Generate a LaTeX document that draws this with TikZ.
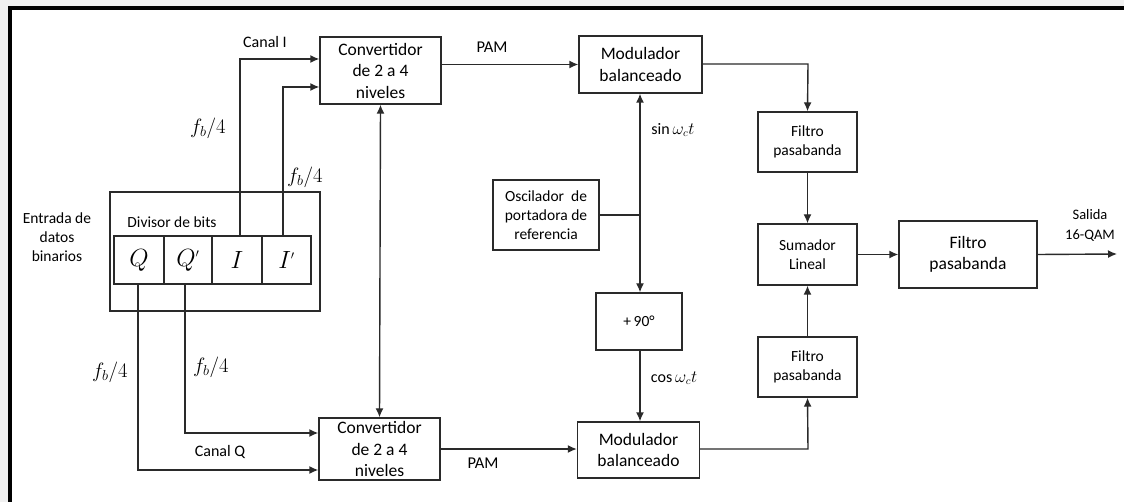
\documentclass[tikz,border=0pt]{standalone}
\usepackage{fontspec}
\setmainfont{Carlito}
\usetikzlibrary{arrows.meta}
\definecolor{bggray}{HTML}{F0F0F0}
\definecolor{ln}{HTML}{2A2A2A}
\tikzset{
  blk/.style={draw=ln, line width=1.4pt, fill=white, align=center, inner sep=0pt},
  big/.style={font=\fontsize{17.5}{21.5}\selectfont},
  small/.style={font=\fontsize{15.5}{19}\selectfont},
  wire/.style={draw=ln, line width=1.4pt},
  arr/.style={wire, -{Latex[length=9pt,width=8pt]}},
  darr/.style={wire, {Latex[length=9pt,width=8pt]}-{Latex[length=9pt,width=8pt]}},
  lbl/.style={inner sep=0pt, text=black},
  mlbl/.style={inner sep=0pt, font=\fontsize{21.5}{24}\selectfont},
}
\begin{document}
\begin{tikzpicture}[x=1pt,y=-1pt]
\useasboundingbox (0,0) rectangle (1124,502);
\fill[bggray] (0,0) rectangle (1124,502);
\fill[white] (12,10) rectangle (1124,502);
\fill[black] (8,6) rectangle (1124,10);
\fill[black] (8,6) rectangle (12,502);

% blocks
\node[blk, big, minimum width=121pt, minimum height=67pt] (conv1) at (380.5,70.5) {Convertidor\\de 2 a 4\\niveles};
\node[blk, big, minimum width=121pt, minimum height=62pt] (conv2) at (379.5,449) {Convertidor\\de 2 a 4\\niveles};
\node[blk, big, minimum width=123pt, minimum height=57pt] (mod1) at (640.5,64.5) {Modulador\\balanceado};
\node[blk, big, minimum width=122pt, minimum height=56pt] (mod2) at (638.5,450) {Modulador\\balanceado};
\node[blk, small, minimum width=106pt, minimum height=70pt] (osc) at (546,215) {Oscilador\ \ de\\portadora de\\referencia};
\node[blk, small, minimum width=86pt, minimum height=57pt] (ph) at (639,321.5) {+\,90°};
\node[blk, small, minimum width=99pt, minimum height=60pt] (f1) at (807.5,142) {Filtro\\pasabanda};
\node[blk, small, minimum width=99pt, minimum height=61pt] (sum) at (807.5,254.5) {Sumador\\Lineal};
\node[blk, small, minimum width=99pt, minimum height=60pt] (f2) at (807.5,367) {Filtro\\pasabanda};
\node[blk, big, minimum width=138pt, minimum height=67pt] (ff) at (968,254.5) {Filtro\\pasabanda};

% divisor
\node[blk, minimum width=210pt, minimum height=119pt] (div) at (215,251.5) {};
\node[lbl, small] (divt) at (172,222) {Divisor de bits};
\node[blk, minimum width=50pt, minimum height=48pt, font=\fontsize{25}{27}\selectfont] (cq) at (139,260) {$Q$};
\node[blk, minimum width=48pt, minimum height=48pt, font=\fontsize{25}{27}\selectfont] (cqp) at (188,260) {$Q^{\scriptscriptstyle\prime}$};
\node[blk, minimum width=50pt, minimum height=48pt, font=\fontsize{25}{27}\selectfont] (ci) at (237,260) {$I$};
\node[blk, minimum width=49pt, minimum height=48pt, font=\fontsize{25}{27}\selectfont] (cip) at (286.5,260) {$I^{\scriptscriptstyle\prime}$};
\node[lbl, small, align=center] (ent) at (57,237) {Entrada de\\datos\\binarios};

% coordinates for wires
\coordinate (iup) at (240,59);
\coordinate (ipup) at (283,87);
\coordinate (qdn) at (138,470);
\coordinate (qpdn) at (185,433);
\coordinate (oscj) at (640,215);
\coordinate (m1c) at (808,64);
\coordinate (m2c) at (808,449);
\coordinate (outp) at (1117,254);

% I channel
\draw[arr] (ci.north -| iup) -- (iup) -- (iup -| conv1.west);
\draw[arr] (cip.north -| ipup) -- (ipup) -- (ipup -| conv1.west);
% Q channel
\draw[arr] (cq.south -| qdn) -- (qdn) -- (qdn -| conv2.west);
\draw[arr] (cqp.south -| qpdn) -- (qpdn) -- (qpdn -| conv2.west);
% converter link
\draw[darr] (conv1.south) -- (conv2.north);
% PAM
\draw[arr] (conv1.east |- mod1) -- (mod1.west);
\draw[arr] (conv2.east) -- (conv2.east -| mod2.west);
% oscillator
\draw[wire] (osc.east) -- (oscj);
\draw[arr] (oscj) -- (oscj |- mod1.south);
\draw[arr] (oscj) -- (oscj |- ph.north);
\draw[arr] (oscj |- ph.south) -- (oscj |- mod2.north);
% to filters
\draw[arr] (mod1.east |- m1c) -- (m1c) -- (f1.north);
\draw[arr] (f1.south) -- (sum.north);
\draw[arr] (mod2.east |- m2c) -- (m2c) -- (f2.south);
\draw[arr] (f2.north) -- (sum.south);
\draw[arr] (sum.east) -- (ff.west);
\draw[arr] (ff.east) -- (outp);

% labels
\node[lbl, font=\fontsize{16}{19}\selectfont] (ci_l) at (265,42) {Canal I};
\node[lbl, font=\fontsize{16}{19}\selectfont] (cq_l) at (220,452) {Canal Q};
\node[lbl, font=\fontsize{16.5}{19}\selectfont] (pam1) at (492,47) {PAM};
\node[lbl, font=\fontsize{16.5}{19}\selectfont] (pam2) at (483,463) {PAM};
\node[mlbl] (fb1) at (208,128) {$f_b/4$};
\node[mlbl] (fb2) at (305,177) {$f_b/4$};
\node[mlbl] (fb3) at (110,372) {$f_b/4$};
\node[mlbl] (fb4) at (211,367) {$f_b/4$};
\node[lbl, font=\fontsize{16}{19}\selectfont] (sinl) at (673,130) {$\sin\omega_c t$};
\node[lbl, font=\fontsize{16}{19}\selectfont] (cosl) at (674,378) {$\cos\omega_c t$};
\node[lbl, font=\fontsize{14.5}{20}\selectfont, align=center] (sal) at (1090,225.5) {Salida\\16-QAM};
\end{tikzpicture}
\end{document}
